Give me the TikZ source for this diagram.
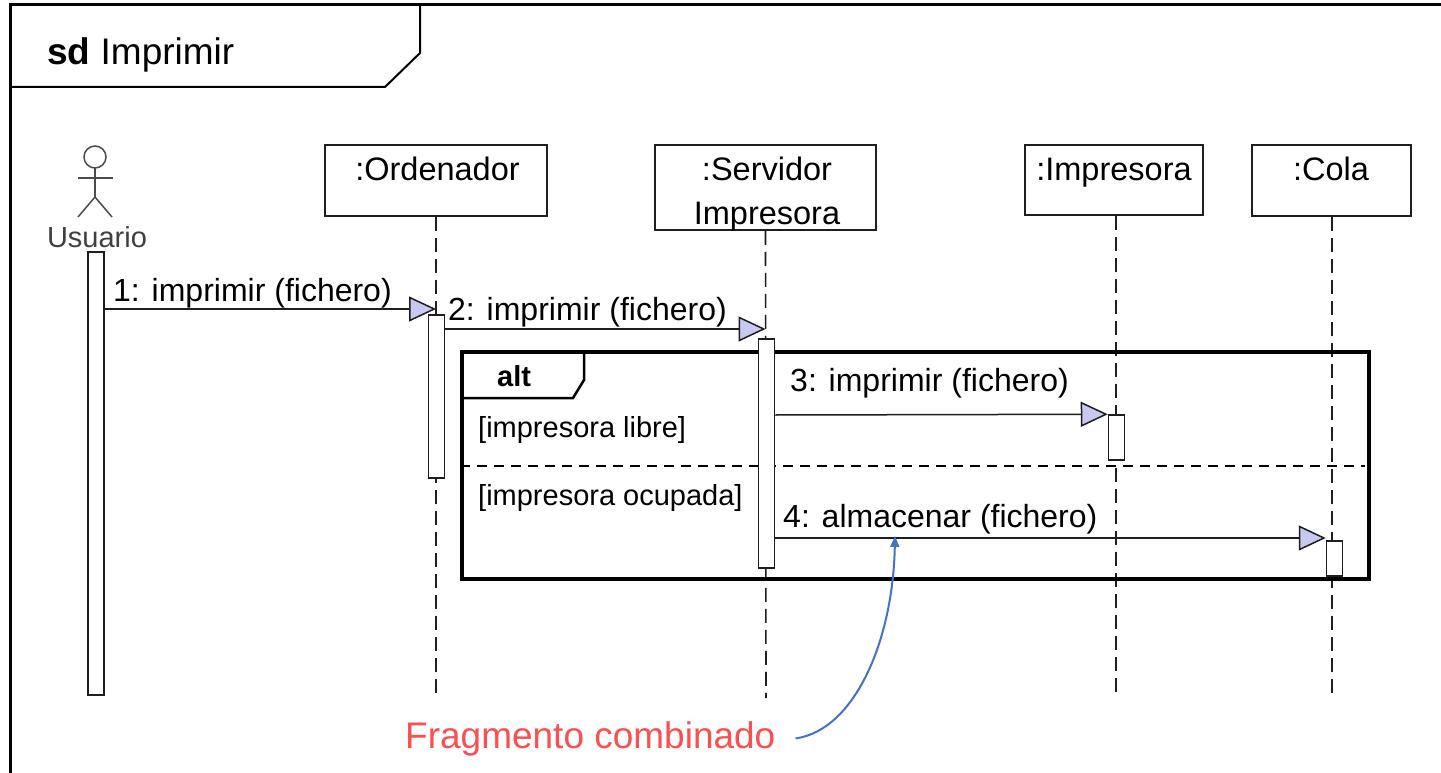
\documentclass[tikz,border=0pt]{standalone}
\usepackage{fontspec}
\setmainfont{Liberation Sans}
\usetikzlibrary{arrows.meta}
\definecolor{tipfill}{RGB}{200,200,240}
\definecolor{inkc}{RGB}{30,30,30}
\definecolor{noteblue}{RGB}{68,114,196}
\definecolor{notered}{RGB}{250,80,80}
\begin{document}
\begin{tikzpicture}[x=1pt,y=-1pt,
  objbox/.style={draw=inkc, line width=1.5pt, inner sep=0pt, fill=white},
  lifeline/.style={draw=inkc, line width=1.6pt, dash pattern=on 14pt off 7pt},
  actbox/.style={draw=inkc, line width=1.5pt, fill=white, minimum width=16pt, inner sep=0pt},
  msg/.style={draw=inkc, line width=1.5pt, -{Triangle[length=27pt,width=25pt,fill=tipfill,line width=1.5pt]}},
  lbl/.style={font=\fontsize{32}{36}\selectfont, inner sep=0pt, anchor=base west, text=black},
  boxlbl/.style={font=\fontsize{32.5}{36}\selectfont, inner sep=0pt, anchor=base, text=black},
  guard/.style={font=\fontsize{29}{33}\selectfont, inner sep=0pt, anchor=base west, text=black},
  sepline/.style={draw=black, line width=2pt, dash pattern=on 10pt off 7pt},
  actor/.style={draw=inkc!80, line width=1.5pt}
]
\useasboundingbox (0,0) rectangle (1441,773);
\fill[white] (0,0) rectangle (1441,773);
% outer frame
\draw[line width=3pt, draw=black] (1441,5) -- (10,5) -- (10,773);
\draw[line width=2pt, draw=black] (10,87) -- (385,87) -- (420,53) -- (420,5);
\node[font=\fontsize{37}{41}\selectfont, inner sep=0pt, anchor=base west] (title) at (47,65) {\textbf{sd} Imprimir};

% actor
\draw[actor] (95,157) circle (11pt);
\draw[actor] (95,168) -- (95,197);
\draw[actor] (78,178) -- (113,178);
\draw[actor] (78,217) -- (95,197) -- (112,217);
\node[font=\fontsize{29}{33}\selectfont, text=black!75, inner sep=0pt, anchor=base] (usuario) at (97,247) {Usuario};

% object boxes
\node[objbox, minimum width=222pt, minimum height=71pt] (ordbox) at (436,180.5) {};
\node[boxlbl] (ordlbl) at (437.5,181) {:Ordenador};
\node[objbox, minimum width=221pt, minimum height=85pt] (srvbox) at (765.5,187.5) {};
\node[boxlbl] (srvlbl1) at (767,181) {:Servidor};
\node[boxlbl] (srvlbl2) at (767,224) {Impresora};
\node[objbox, minimum width=178pt, minimum height=70pt] (impbox) at (1114,180) {};
\node[boxlbl] (implbl) at (1114,181) {:Impresora};
\node[objbox, minimum width=159pt, minimum height=71pt] (colbox) at (1331.5,180.5) {};
\node[boxlbl] (collbl) at (1331,181) {:Cola};

% lifeline ends
\coordinate (ordend) at (436,698);
\coordinate (srvend) at (766,698);
\coordinate (impend) at (1116,698);
\coordinate (colend) at (1332,698);
\draw[lifeline] (ordbox.south) -- (ordend);
\draw[lifeline] (srvbox.south) -- (srvend);
\draw[lifeline] (impbox.south -| impend) -- (impend);
\draw[lifeline] (colbox.south -| colend) -- (colend);

% alt fragment
\node[draw=black, line width=3.5pt, minimum width=907pt, minimum height=227pt, inner sep=0pt] (alt) at (915.5,465.5) {};
\draw[line width=2.5pt, draw=black] (alt.north west |- 0,398) -- (573,398) -- (584,380) -- (584,352);
\node[font=\fontsize{29}{33}\selectfont\bfseries, inner sep=0pt, anchor=base west] (altlbl) at (497,386) {alt};
\draw[sepline] (alt.west |- 0,466) -- (1365,466);
\node[guard] (g1) at (478,437) {[impresora libre]};
\node[guard] (g2) at (478,505) {[impresora ocupada]};

% activations
\node[actbox, minimum height=443pt] (actU) at (96,473.5) {};
\node[actbox, minimum height=163pt] (actO) at (436.5,396.5) {};
\node[actbox, minimum height=229pt] (actS) at (766.5,453.5) {};
\node[actbox, minimum height=45pt] (actI) at (1116.5,437.5) {};
\node[actbox, minimum height=35pt] (actC) at (1334.5,558.5) {};

% messages
\draw[msg] (actU.east |- 0,309) -- (ordbox.south |- 0,309);
\node[lbl] (m1) at (113,301) {1: imprimir (fichero)};
\draw[msg] (actO.east |- 0,329) -- (srvbox.south |- 0,329);
\node[lbl] (m2) at (448,320) {2: imprimir (fichero)};
\draw[msg] (actS.east |- 0,415) -- (actI.north west);
\node[lbl] (m3) at (790,391) {3: imprimir (fichero)};
\draw[msg] (actS.east |- 0,538) -- (actC.west |- 0,538);
\node[lbl] (m4) at (783,527) {4: almacenar (fichero)};

% note
\node[font=\fontsize{37}{41}\selectfont, text=notered, inner sep=0pt, anchor=base west] (frag) at (405,748) {Fragmento combinado};
\coordinate (notetip) at (895,536);
\draw[noteblue, line width=2pt, -{Triangle[length=11pt,width=9pt]}] ([xshift=20pt]frag.east) .. controls (855,730) and (893,640) .. (notetip);
\end{tikzpicture}
\end{document}
